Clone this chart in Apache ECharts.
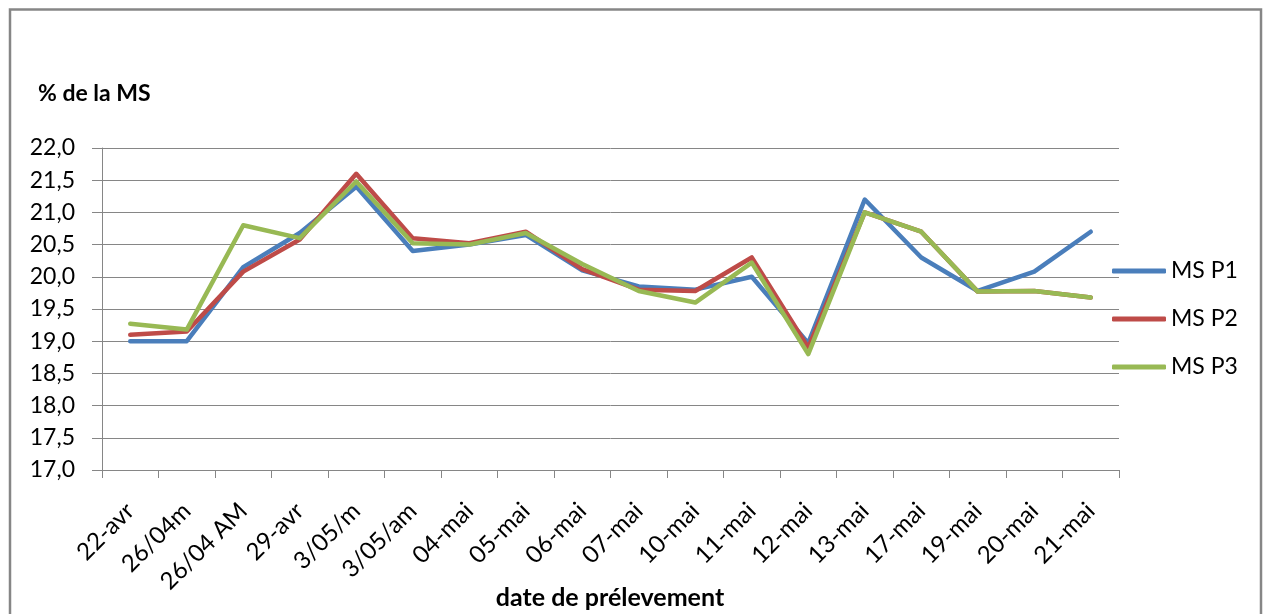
<!DOCTYPE html>
<html>
<head>
<meta charset="utf-8">
<title>% de la MS</title>
<script src="https://cdn.jsdelivr.net/npm/echarts@6/dist/echarts.min.js"></script>
<style>
  html, body { margin: 0; padding: 0; background: #ffffff; }
  #chart { width: 1264px; height: 614px; }
</style>
</head>
<body>
<div id="chart"></div>
<script>
// Sampling dates (x axis)
const categories = ['22-avr', '26/04m', '26/04 AM', '29-avr', '3/05/m', '3/05/am', '04-mai', '05-mai',
  '06-mai', '07-mai', '10-mai', '11-mai', '12-mai', '13-mai', '17-mai', '19-mai', '20-mai', '21-mai'];

// Dry matter content (% de la MS) per plot
const msP1 = [19.0, 19.0, 20.15, 20.68, 21.4, 20.4, 20.5, 20.65, 20.1, 19.85, 19.8, 20.0, 18.97, 21.2, 20.3, 19.78, 20.08, 20.7];
const msP2 = [19.1, 19.15, 20.08, 20.58, 21.6, 20.6, 20.52, 20.7, 20.12, 19.8, 19.78, 20.3, 18.9, 21.0, 20.7, 19.77, 19.78, 19.68];
const msP3 = [19.27, 19.18, 20.8, 20.6, 21.48, 20.52, 20.5, 20.68, 20.2, 19.78, 19.6, 20.22, 18.8, 21.0, 20.7, 19.77, 19.78, 19.68];

const seriesNames = ['MS P1', 'MS P2', 'MS P3'];
const seriesColors = ['#4A7EBB', '#BE4B48', '#98B954'];

const font = 'Lato, "Open Sans", sans-serif';
const gray = '#868686';

const chart = echarts.init(document.getElementById('chart'));

function lineSeries(name, data, color) {
  return {
    name: name,
    type: 'line',
    data: data,
    symbol: 'none',
    color: color,
    itemStyle: { color: color },
    lineStyle: { width: 4.5, color: color, cap: 'round', join: 'round' },
    animation: false
  };
}

chart.setOption({
  backgroundColor: '#ffffff',
  animation: false,
  graphic: [{
    // outer chart frame
    type: 'rect',
    shape: { x: 10, y: 9.5, width: 1251, height: 700 },
    style: { fill: 'none', stroke: gray, lineWidth: 2.5 },
    silent: true
  }, {
    // x axis title, centred under the plot area
    type: 'text',
    x: 610,
    y: 598,
    style: {
      text: 'date de prélevement',
      fontFamily: font,
      fontSize: 25,
      fontWeight: 'bold',
      fill: '#000',
      align: 'center',
      verticalAlign: 'middle'
    },
    silent: true
  }],
  title: {
    text: '% de la MS',
    left: 33,
    top: 77,
    textStyle: { fontFamily: font, fontSize: 23, fontWeight: 'bold', color: '#000' }
  },
  legend: {
    orient: 'vertical',
    left: 1107,
    top: 254,
    icon: 'roundRect',
    itemWidth: 54,
    itemHeight: 5,
    itemGap: 24,
    itemTextGap: 4,
    data: seriesNames,
    textStyle: { fontFamily: font, fontSize: 23, color: '#000', lineHeight: 24 }
  },
  grid: { left: 102, right: 145, top: 148, bottom: 144, containLabel: false, outerBoundsMode: 'none' },
  xAxis: {
    type: 'category',
    data: categories,
    boundaryGap: true,
    axisLine: { lineStyle: { color: gray, width: 1 } },
    axisTick: { show: true, length: 8, lineStyle: { color: gray, width: 1 } },
    axisLabel: {
      rotate: 45,
      margin: 37,
      interval: 0,
      fontFamily: font,
      fontSize: 24,
      color: '#000'
    },
    splitLine: { show: false }
  },
  yAxis: {
    type: 'value',
    min: 17,
    max: 22,
    interval: 0.5,
    axisLine: { show: true, lineStyle: { color: gray, width: 1 } },
    axisTick: { show: true, length: 10, lineStyle: { color: gray, width: 1 } },
    axisLabel: {
      margin: 27,
      fontFamily: font,
      fontSize: 23,
      color: '#000',
      formatter: v => v.toFixed(1).replace('.', ',')
    },
    splitLine: { show: true, lineStyle: { color: gray, width: 1 } }
  },
  series: [
    lineSeries(seriesNames[0], msP1, seriesColors[0]),
    lineSeries(seriesNames[1], msP2, seriesColors[1]),
    lineSeries(seriesNames[2], msP3, seriesColors[2])
  ]
});
</script>
</body>
</html>
